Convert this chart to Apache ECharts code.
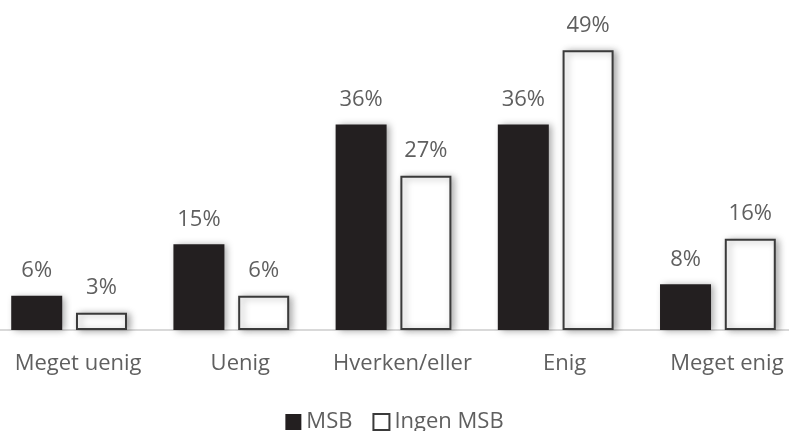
<!DOCTYPE html>
<html>
<head>
<meta charset="utf-8">
<script src="https://cdn.jsdelivr.net/npm/echarts@6/dist/echarts.min.js"></script>
<style>
  html, body { margin: 0; padding: 0; background: #ffffff; }
  #chart { width: 789px; height: 431px; }
</style>
</head>
<body>
<div id="chart"></div>
<script>
// Answer categories along the x axis
const categories = ['Meget uenig', 'Uenig', 'Hverken/eller', 'Enig', 'Meget enig'];
// Share of respondents (%) in each group
const msbValues = [6, 15, 36, 36, 8];
const ingenMsbValues = [3, 6, 27, 49, 16];
const seriesNames = ['MSB', 'Ingen MSB'];

const textColor = '#5f5f5f';
const fontFamily = '"Open Sans", sans-serif';
const fontSize = 22;

const shadow = {
  shadowBlur: 7,
  shadowOffsetX: 3,
  shadowOffsetY: 1,
  shadowColor: 'rgba(0,0,0,0.35)'
};

const label = {
  show: true,
  position: 'top',
  distance: 14,
  formatter: '{c}%',
  color: textColor,
  fontSize: fontSize,
  fontFamily: fontFamily
};

const chart = echarts.init(document.getElementById('chart'), null, { renderer: 'canvas' });
chart.setOption({
  animation: false,
  backgroundColor: '#ffffff',
  grid: { left: -12, right: -10, top: 16, bottom: 101, outerBoundsMode: 'none' },
  legend: {
    bottom: -7,
    left: 'center',
    itemWidth: 16,
    itemHeight: 16,
    itemGap: 20,
    icon: 'rect',
    textStyle: { color: textColor, fontSize: fontSize, fontFamily: fontFamily },
    data: seriesNames
  },
  xAxis: {
    type: 'category',
    data: categories,
    axisLine: { show: true, lineStyle: { color: '#d9d9d9', width: 2 } },
    axisTick: { show: false },
    axisLabel: {
      interval: 0,
      hideOverlap: false,
      color: textColor,
      fontSize: fontSize,
      fontFamily: fontFamily,
      padding: [0, 0, 0, 18],
      margin: 23
    }
  },
  yAxis: {
    type: 'value',
    min: 0,
    max: 55,
    show: false,
    splitLine: { show: false }
  },
  series: [
    {
      name: seriesNames[0],
      type: 'bar',
      data: msbValues,
      barWidth: 51,
      barGap: '27%',
      itemStyle: Object.assign({ color: '#231f20' }, shadow),
      label: label
    },
    {
      name: seriesNames[1],
      type: 'bar',
      data: ingenMsbValues,
      barWidth: 51,
      itemStyle: Object.assign({ color: '#ffffff', borderColor: '#3a3a3a', borderWidth: 2 }, shadow),
      label: label
    }
  ]
});
</script>
</body>
</html>
